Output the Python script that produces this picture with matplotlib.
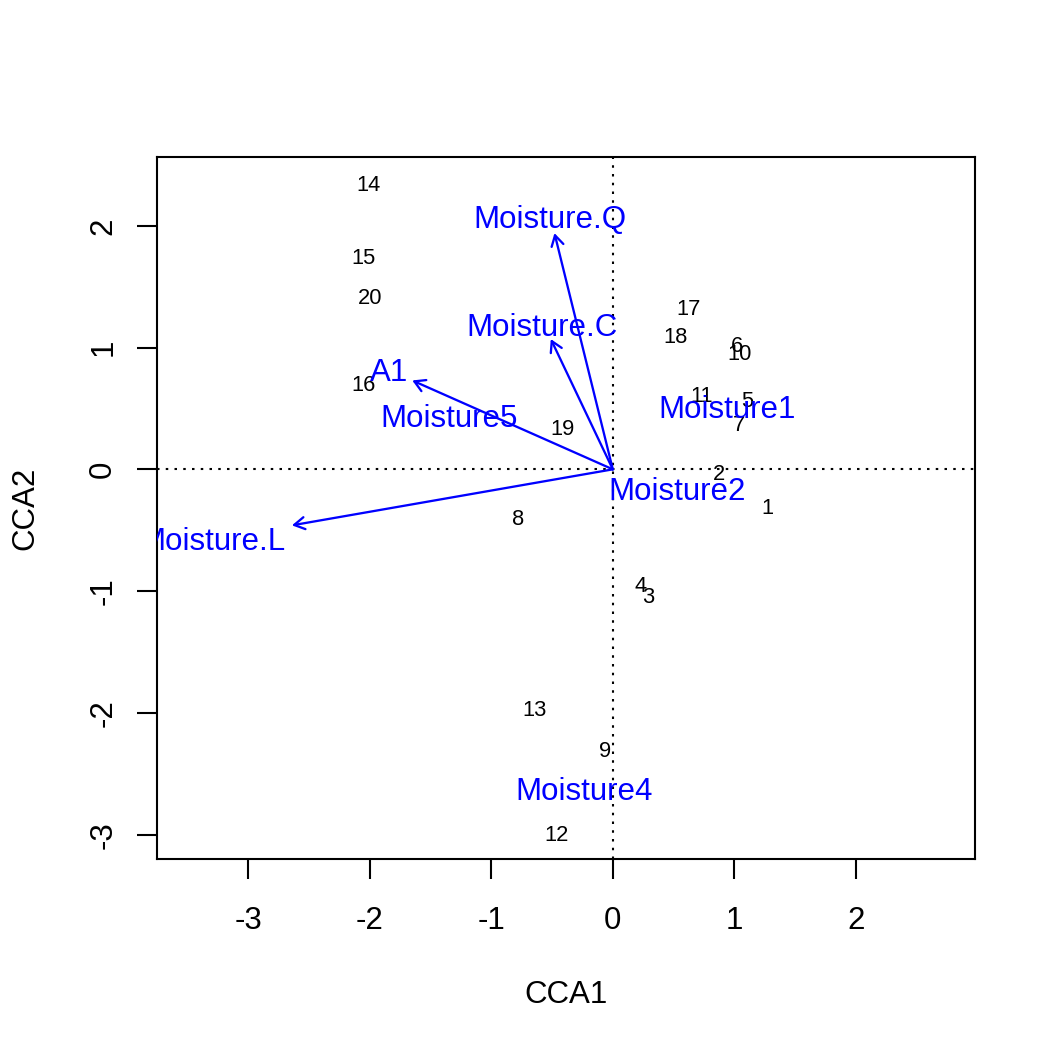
import numpy as np
import matplotlib
matplotlib.use("Agg")
import matplotlib.pyplot as plt

plt.rcParams['font.family'] = ['Liberation Sans', 'DejaVu Sans']
plt.rcParams['axes.unicode_minus'] = False

# site scores (CCA1, CCA2)
site_labels = ['1', '2', '3', '4', '5', '6', '7', '8', '9', '10',
               '11', '12', '13', '14', '15', '16', '17', '18', '19', '20']
site_x = [1.27, 0.87, 0.29, 0.23, 1.11, 1.02, 1.04, -0.78, -0.06, 1.04,
          0.73, -0.46, -0.64, -2.01, -2.05, -2.05, 0.62, 0.52, -0.41, -2.00]
site_y = [-0.32, -0.04, -1.05, -0.96, 0.56, 1.01, 0.36, -0.41, -2.32, 0.94,
          0.60, -3.01, -1.98, 2.33, 1.73, 0.69, 1.31, 1.08, 0.33, 1.40]

# biplot arrows (continuous / ordered variables)
arrow_names = ['Moisture.L', 'Moisture.Q', 'Moisture.C', 'A1']
arrow_x = [-2.64, -0.48, -0.51, -1.65]
arrow_y = [-0.46, 1.94, 1.07, 0.73]
arrow_lab_x = [-3.29, -0.52, -0.58, -1.84]
arrow_lab_y = [-0.60, 2.05, 1.16, 0.79]

# factor centroids
cent_names = ['Moisture1', 'Moisture2', 'Moisture4', 'Moisture5']
cent_x = [0.94, 0.53, -0.24, -1.35]
cent_y = [0.49, -0.19, -2.65, 0.41]

fig = plt.figure(figsize=(7.04, 7.04), dpi=150)
ax = fig.add_axes([157/1056, 1 - 859/1056, (975-157)/1056, (859-157)/1056])
ax.set_xlim(-3.75, 2.98)
ax.set_ylim(-3.2, 2.565)

blue = '#0000FF'

ax.axhline(0, color='black', lw=1, ls=(0, (1.2, 3)))
ax.axvline(0, color='black', lw=1, ls=(0, (1.2, 3)))

for lab, x, y in zip(site_labels, site_x, site_y):
    ax.text(x, y, lab, fontsize=10.5, ha='center', va='center', clip_on=True)

for x, y in zip(arrow_x, arrow_y):
    ax.annotate('', xy=(x, y), xytext=(0, 0),
                arrowprops=dict(arrowstyle='->,head_length=0.5,head_width=0.29',
                                mutation_scale=10, color=blue, lw=1.1,
                                shrinkA=0, shrinkB=0))

for lab, x, y in zip(arrow_names, arrow_lab_x, arrow_lab_y):
    ax.text(x, y, lab, fontsize=15, color=blue, ha='center', va='center',
            clip_on=True)

for lab, x, y in zip(cent_names, cent_x, cent_y):
    ax.text(x, y, lab, fontsize=15, color=blue, ha='center', va='center',
            clip_on=True)

ax.set_xticks([-3, -2, -1, 0, 1, 2])
ax.set_yticks([-3, -2, -1, 0, 1, 2])
ax.tick_params(length=9.6, width=1, labelsize=15)
ax.tick_params(axis='x', pad=13)
ax.tick_params(axis='y', pad=9)
for t in ax.get_yticklabels():
    t.set_rotation(90)
    t.set_va('center')
for s in ax.spines.values():
    s.set_linewidth(1)

ax.set_xlabel('CCA1', fontsize=15, va='center')
ax.set_ylabel('CCA2', fontsize=15, va='center')
ax.xaxis.set_label_coords(0.5, -(995 - 859) / 702)
ax.yaxis.set_label_coords((25 - 157) / 818, 0.5)

fig.savefig('out.png', dpi=150)
